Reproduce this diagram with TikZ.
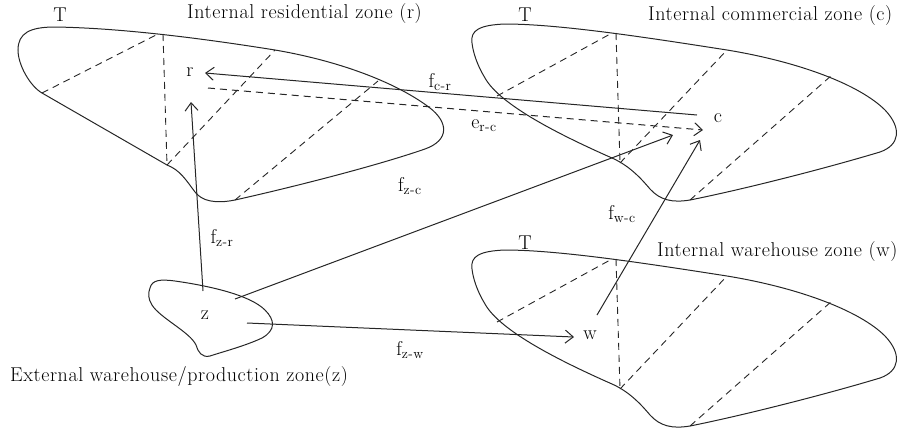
\documentclass[tikz,border=0pt]{standalone}
\usepackage{fontspec}
\setmainfont{Latin Modern Roman}[LetterSpace=3]
\usetikzlibrary{arrows.meta}
\begin{document}
\begin{tikzpicture}[x=1pt,y=-1pt,
  blob/.style={draw=black!85,line width=1pt},
  dsh/.style={draw=black!85,line width=0.9pt,dash pattern=on 7pt off 5pt},
  arr/.style={draw=black!85,line width=1pt,-{Straight Barb[length=8pt,width=13pt,line width=1pt]}},
  darr/.style={arr,dash pattern=on 7pt off 5pt},
  lab/.style={inner sep=0pt,font=\fontsize{20}{24}\selectfont},
  ttl/.style={lab,anchor=west}]
\useasboundingbox (0,0) rectangle (902,432);
% residential zone
\draw[blob] (18,50) .. controls (18,33) and (30,27) .. (55,27)
 .. controls (120,28) and (200,38) .. (275,50)
 .. controls (345,62) and (400,85) .. (430,108)
 .. controls (448,122) and (450,140) .. (425,149)
 .. controls (370,168) and (280,190) .. (235,200)
 .. controls (215,204) and (202,201) .. (195,192)
 .. controls (186,180) and (180,170) .. (167,165)
 -- (42,93)
 .. controls (30,86) and (18,65) .. cycle;
\draw[dsh] (42,93) -- (158,34);
\draw[dsh] (163,34) -- (167,165);
\draw[dsh] (167,165) -- (275,50);
\draw[dsh] (235,200) -- (378,81);
% commercial zone
\draw[blob] (472,43) .. controls (470,30) and (480,25) .. (505,24)
 .. controls (560,24) and (650,38) .. (727,50)
 .. controls (800,62) and (860,85) .. (885,110)
 .. controls (902,128) and (900,145) .. (880,152)
 .. controls (820,170) and (740,190) .. (690,200)
 .. controls (672,203) and (660,200) .. (650,189)
 .. controls (640,177) and (628,165) .. (612,158)
 .. controls (560,135) and (500,105) .. (485,78)
 .. controls (477,65) and (473,52) .. cycle;
\draw[dsh] (497,96) -- (612,33);
\draw[dsh] (616,33) -- (620,163);
\draw[dsh] (620,163) -- (727,50);
\draw[dsh] (690,200) -- (832,75);
% warehouse zone
\begin{scope}[yshift=-226pt]
\draw[blob] (472,43) .. controls (470,30) and (480,25) .. (505,24)
 .. controls (560,24) and (650,38) .. (727,50)
 .. controls (800,62) and (860,85) .. (885,110)
 .. controls (902,128) and (900,145) .. (880,152)
 .. controls (820,170) and (740,190) .. (690,200)
 .. controls (672,203) and (660,200) .. (650,189)
 .. controls (640,177) and (628,165) .. (612,158)
 .. controls (560,135) and (500,105) .. (485,78)
 .. controls (477,65) and (473,52) .. cycle;
\draw[dsh] (497,96) -- (612,33);
\draw[dsh] (616,33) -- (620,163);
\draw[dsh] (620,163) -- (727,50);
\draw[dsh] (690,200) -- (832,75);
\end{scope}
% external zone
\draw[blob] (150,288) .. controls (152,280) and (160,279) .. (175,281)
 .. controls (210,286) and (250,295) .. (265,310)
 .. controls (275,320) and (276,330) .. (262,338)
 .. controls (245,346) and (222,352) .. (210,356)
 .. controls (202,358) and (198,352) .. (196,345)
 .. controls (190,332) and (160,318) .. (152,305)
 .. controls (148,299) and (148,293) .. cycle;
% titles
\node[lab] (Tr) at (60,15) {T};
\node[lab] (Tc) at (525,15) {T};
\node[lab] (Tw) at (525,243) {T};
\node[ttl] (tr) at (187,14) {Internal residential zone (r)};
\node[ttl] (tc) at (648,16) {Internal commercial zone (c)};
\node[ttl] (tw) at (657,252) {Internal warehouse zone (w)};
\node[ttl] (tz) at (10,377) {External warehouse/production zone(z)};
% zone letters
\node[lab] (r) at (190,72) {r};
\node[lab] (c) at (718,118) {c};
\node[lab] (w) at (590,335) {w};
\node[lab] (z) at (205,315) {z};
% connector ends
\coordinate (cr1) at (697,115); \coordinate (cr2) at (205,73);
\coordinate (rc1) at (208,88);  \coordinate (rc2) at (703,130);
\coordinate (zc1) at (235,299); \coordinate (zc2) at (673,135);
\coordinate (wc1) at (597,315); \coordinate (wc2) at (700,140);
\coordinate (zr1) at (203,291); \coordinate (zr2) at (191,102);
\coordinate (zw1) at (247,323); \coordinate (zw2) at (574,337);
\draw[arr] (cr1) -- (cr2);
\draw[darr] (rc1) -- (rc2);
\draw[arr] (zc1) -- (zc2);
\draw[arr] (wc1) -- (wc2);
\draw[arr] (zr1) -- (zr2);
\draw[arr] (zw1) -- (zw2);
% flow labels
\node[lab] (lcr) at (440,82) {f\textsubscript{c-r}};
\node[lab] (lrc) at (484,126) {e\textsubscript{r-c}};
\node[lab] (lzc) at (410,186) {f\textsubscript{z-c}};
\node[lab] (lwc) at (622,214) {f\textsubscript{w-c}};
\node[lab] (lzr) at (222,238) {f\textsubscript{z-r}};
\node[lab] (lzw) at (410,350) {f\textsubscript{z-w}};
\end{tikzpicture}
\end{document}
